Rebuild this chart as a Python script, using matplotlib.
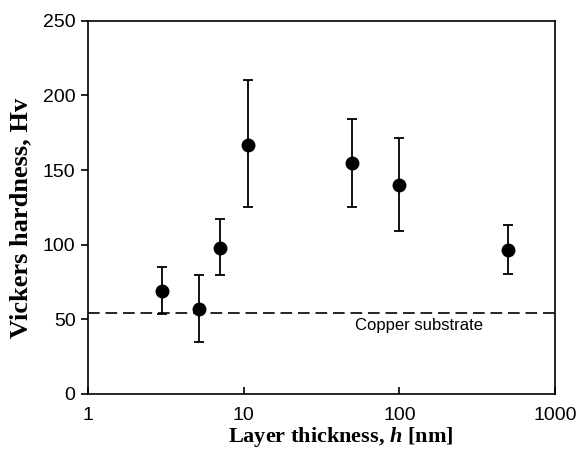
import matplotlib
matplotlib.use("Agg")
import matplotlib.pyplot as plt
from matplotlib.ticker import FixedLocator, NullLocator

plt.rcParams['mathtext.fontset'] = 'custom'
plt.rcParams['mathtext.bfit'] = 'Liberation Serif:italic:bold'
plt.rcParams['mathtext.it'] = 'Liberation Serif:italic:bold'
plt.rcParams['mathtext.rm'] = 'Liberation Serif:bold'

thickness = [3, 5.2, 7, 10.7, 50, 100, 500]
hardness = [69, 57, 98, 167, 155, 140, 96.5]
err_upper = [85, 80, 117, 210, 184, 171.5, 113]
err_lower = [53.5, 35, 79.5, 125, 125, 109, 80.5]
substrate = 54
xticks = [1, 10, 100, 1000]
xtick_labels = ["1", "10", "100", "1000"]
yticks = [0, 50, 100, 150, 200, 250]

W, H = 577, 457
fig = plt.figure(figsize=(W/100, H/100), dpi=100)
ax = fig.add_axes([88/W, 1 - 394/H, (555-88)/W, (394-20.7)/H])

yerr = [[h - lo for h, lo in zip(hardness, err_lower)],
        [hi - h for h, hi in zip(hardness, err_upper)]]
ax.errorbar(thickness, hardness, yerr=yerr, fmt='o', color='black',
            markersize=9, capsize=3.5, elinewidth=1.3, capthick=1.3)
ax.axhline(substrate, color='black', linestyle=(0, (7, 3.5)), linewidth=1.2)
ax.text(134, 46, "Copper substrate", ha='center', va='center',
        fontsize=12, family='Liberation Sans')

ax.set_xscale('log')
ax.set_xlim(1, 1000)
ax.set_ylim(0, 250)
ax.xaxis.set_major_locator(FixedLocator(xticks))
ax.set_xticklabels(xtick_labels)
ax.xaxis.set_minor_locator(NullLocator())
ax.set_yticks(yticks)

ax.tick_params(axis='x', direction='in', length=5, width=1.2, pad=9,
               labelsize=14)
ax.tick_params(axis='y', direction='out', length=5, width=1.2, pad=4,
               labelsize=14)
for lab in ax.get_xticklabels() + ax.get_yticklabels():
    lab.set_family('Liberation Sans')
for s in ax.spines.values():
    s.set_linewidth(1.2)

fig.text(341/W, 1 - 437/H, "Layer thickness, $h$ [nm]", family='Liberation Serif',
         fontweight='bold', fontsize=16, ha='center', va='center')
fig.text(21/W, 1 - 218/H, "Vickers hardness, Hv", family='Liberation Serif',
         fontweight='bold', fontsize=19, ha='center', va='center', rotation=90)

fig.savefig("out.png", dpi=100)
